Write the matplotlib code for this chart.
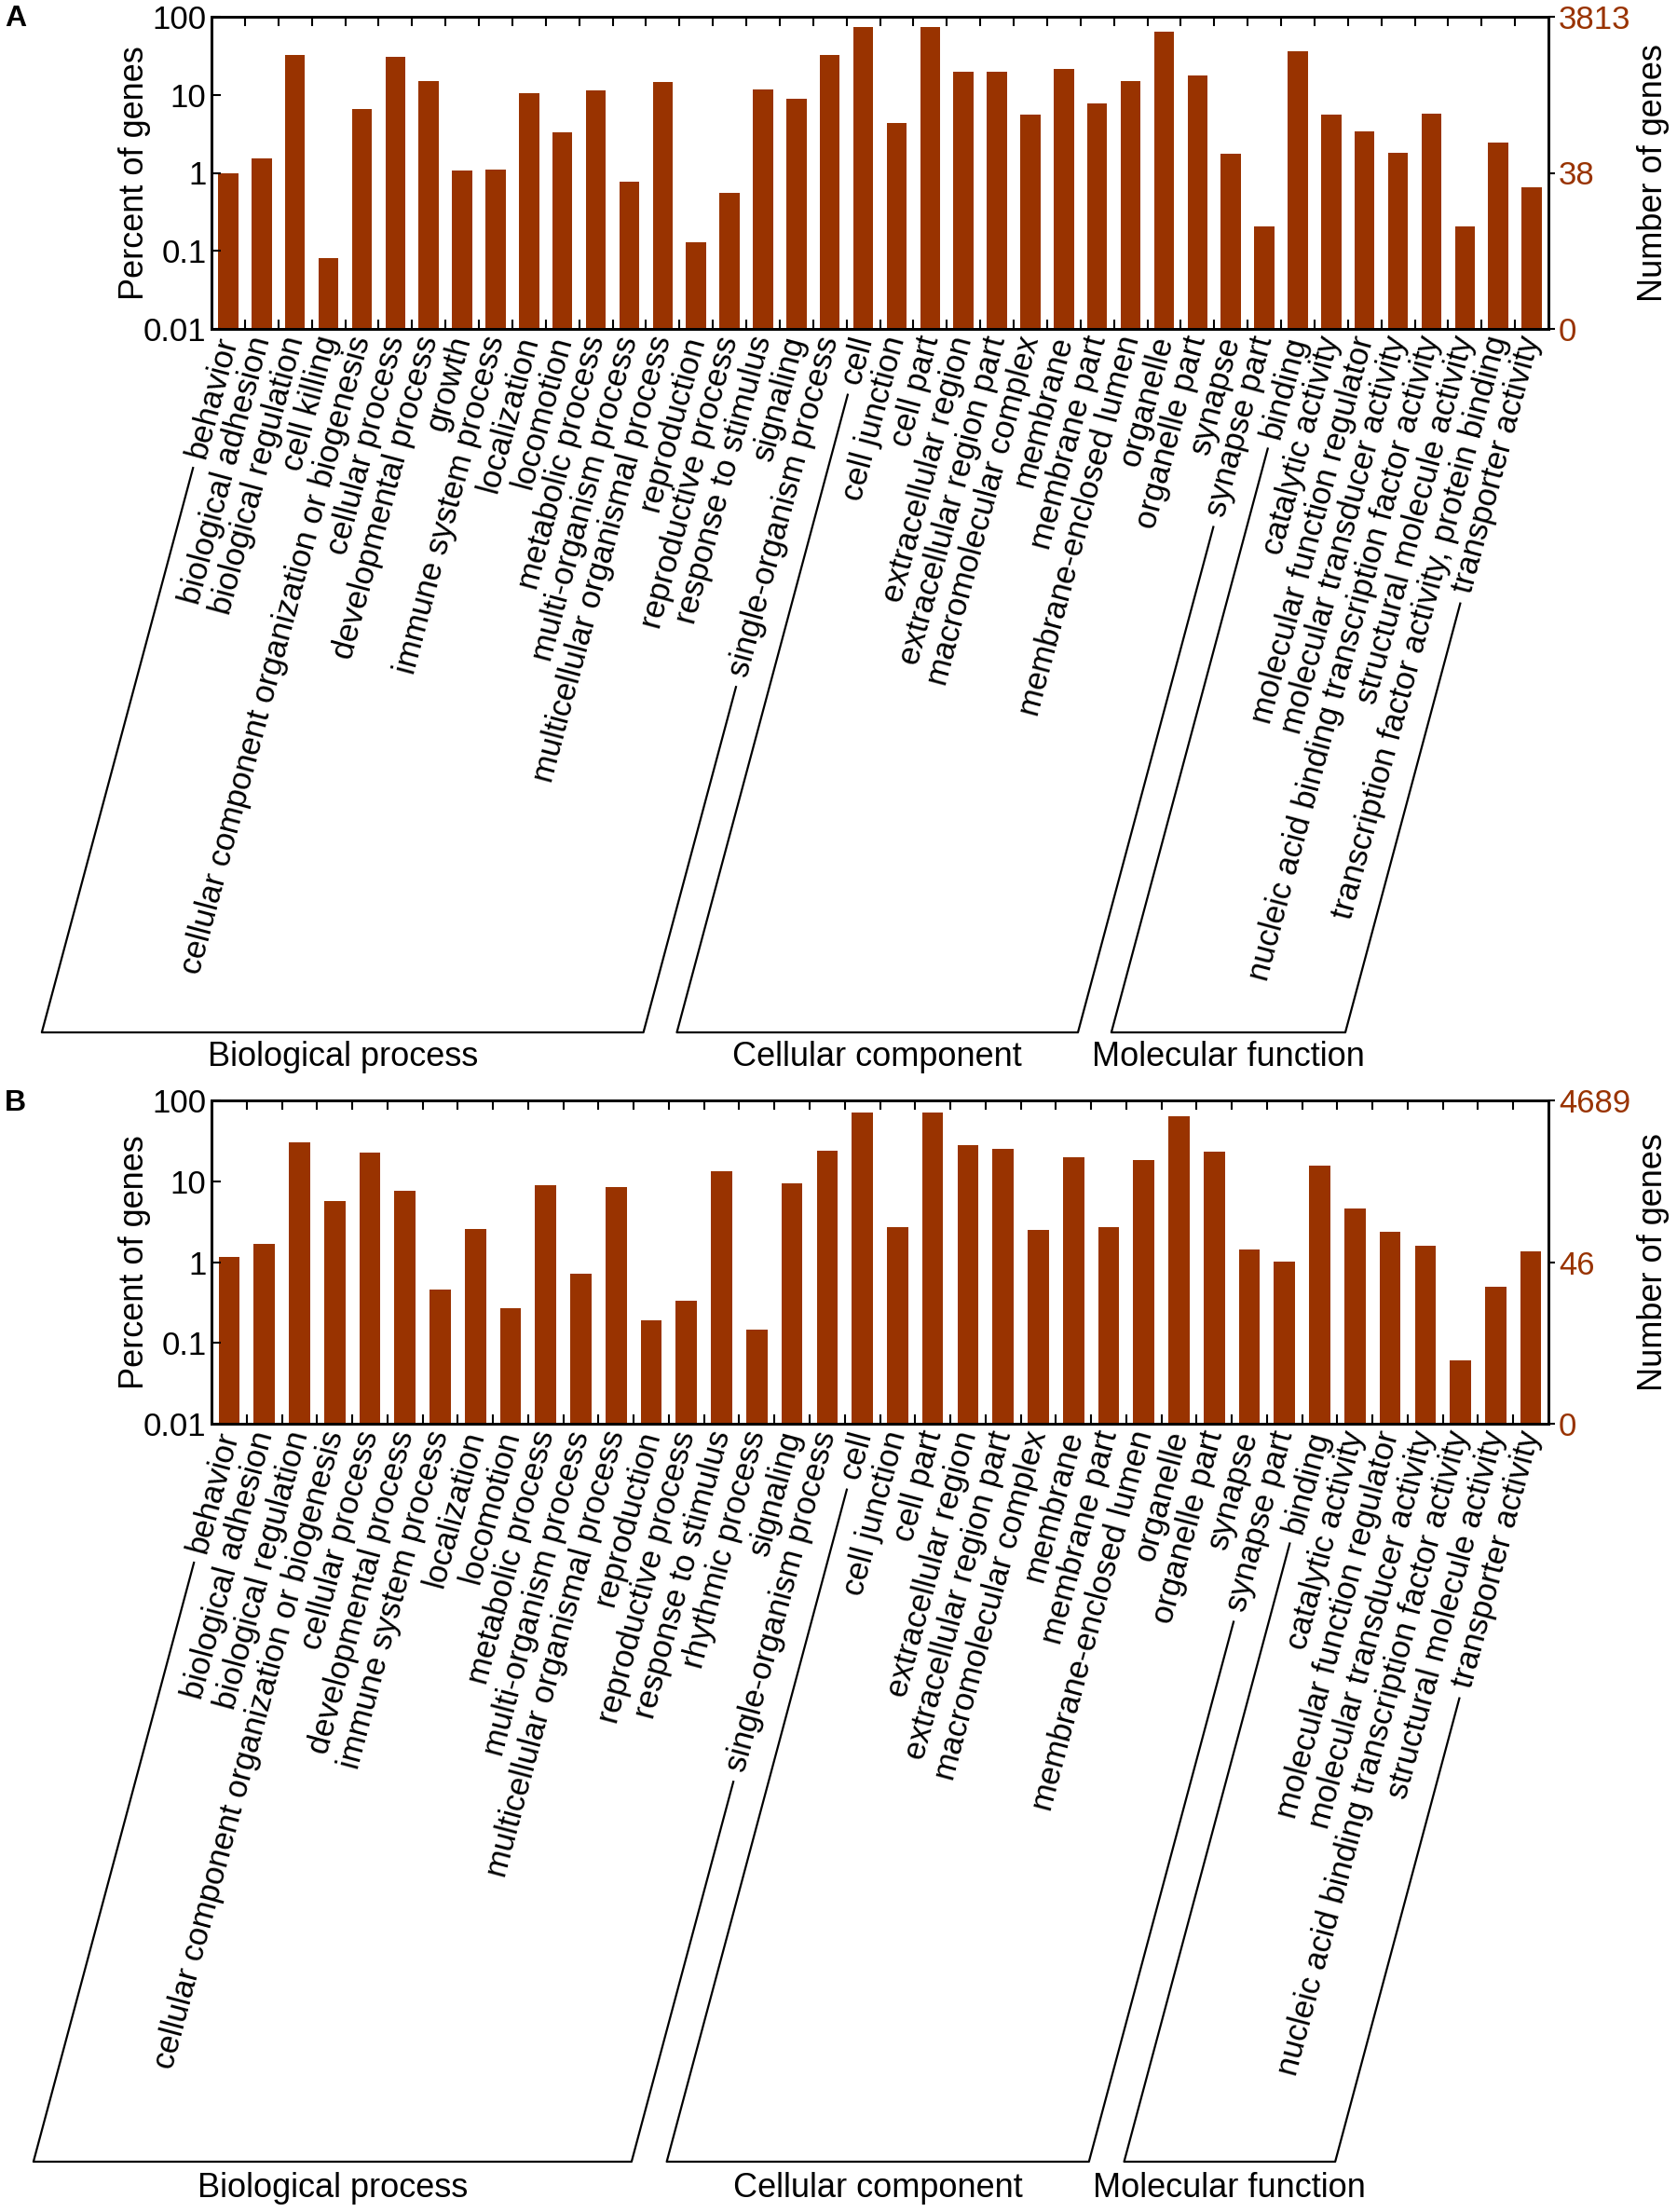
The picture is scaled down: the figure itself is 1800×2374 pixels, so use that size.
import math
import numpy as np
import matplotlib
matplotlib.use('Agg')
import matplotlib.pyplot as plt
from matplotlib.lines import Line2D
from matplotlib.ticker import NullLocator

plt.rcParams['font.family'] = ['Liberation Sans', 'DejaVu Sans']

# ---------------- data ----------------
# Panel A
bp_a_names = ["behavior", "biological adhesion", "biological regulation", "cell killing",
              "cellular component organization or biogenesis", "cellular process",
              "developmental process", "growth", "immune system process", "localization",
              "locomotion", "metabolic process", "multi-organism process",
              "multicellular organismal process", "reproduction", "reproductive process",
              "response to stimulus", "signaling", "single-organism process"]
bp_a_vals = [1.0, 1.55, 32.8, 0.08, 6.6, 30.8, 15.1, 1.08, 1.1, 10.4, 3.35, 11.3, 0.76,
             14.4, 0.13, 0.55, 11.7, 8.9, 32.8]
cc_a_names = ["cell", "cell junction", "cell part", "extracellular region",
              "extracellular region part", "macromolecular complex", "membrane",
              "membrane part", "membrane-enclosed lumen", "organelle", "organelle part",
              "synapse", "synapse part"]
cc_a_vals = [74.6, 4.4, 74.6, 19.8, 19.8, 5.5, 21.5, 7.8, 15.2, 64.4, 17.9, 1.75, 0.207]
mf_a_names = ["binding", "catalytic activity", "molecular function regulator",
              "molecular transducer activity",
              "nucleic acid binding transcription factor activity",
              "structural molecule activity",
              "transcription factor activity, protein binding", "transporter activity"]
mf_a_vals = [35.9, 5.56, 3.38, 1.8, 5.67, 0.207, 2.45, 0.656]
total_a = 3813

# Panel B
bp_b_names = ["behavior", "biological adhesion", "biological regulation",
              "cellular component organization or biogenesis", "cellular process",
              "developmental process", "immune system process", "localization",
              "locomotion", "metabolic process", "multi-organism process",
              "multicellular organismal process", "reproduction", "reproductive process",
              "response to stimulus", "rhythmic process", "signaling",
              "single-organism process"]
bp_b_vals = [1.16, 1.66, 30.0, 5.7, 22.4, 7.7, 0.46, 2.6, 0.27, 9.0, 0.71, 8.45, 0.19,
             0.33, 13.2, 0.146, 9.5, 24.0]
cc_b_names = ["cell", "cell junction", "cell part", "extracellular region",
              "extracellular region part", "macromolecular complex", "membrane",
              "membrane part", "membrane-enclosed lumen", "organelle", "organelle part",
              "synapse", "synapse part"]
cc_b_vals = [71.4, 2.7, 71.4, 28.2, 25.1, 2.47, 19.8, 2.7, 18.4, 64.2, 23.4, 1.45, 1.02]
mf_b_names = ["binding", "catalytic activity", "molecular function regulator",
              "molecular transducer activity",
              "nucleic acid binding transcription factor activity",
              "structural molecule activity", "transporter activity"]
mf_b_vals = [15.8, 4.6, 2.36, 1.58, 0.061, 0.49, 1.35]
total_b = 4689

group_titles = ["Biological process", "Cellular component", "Molecular function"]
y_ticks = [0.01, 0.1, 1, 10, 100]
y_ticklabels = ["0.01", "0.1", "1", "10", "100"]
right_ticks = [0.01, 1, 100]

# ---------------- style / layout ----------------
BAR = '#993300'
W, H = 1800, 2374
DPI = 100
ANG = math.radians(75)
FS = 26
FS_LBL = 25

fig = plt.figure(figsize=(W / DPI, H / DPI), dpi=DPI)


def px_rect(left, top, right, bottom):
    return [left / W, 1 - bottom / H, (right - left) / W, (bottom - top) / H]


def draw_panel(rect, groups, total, letter, letter_pos):
    names = [n for g in groups for n in g[0]]
    vals = [v for g in groups for v in g[1]]
    n = len(names)
    x = np.arange(1, n + 1)
    ax = fig.add_axes(rect)
    ax.bar(x, vals, width=0.6, color=BAR)
    ax.set_yscale('log')
    ax.set_ylim(0.01, 100)
    ax.set_xlim(0.5, n + 0.5)
    ax.set_yticks(y_ticks)
    ax.set_yticklabels(y_ticklabels)
    ax.yaxis.set_minor_locator(NullLocator())
    ax.set_xticks(x)
    ax.set_xticklabels(names, fontsize=FS_LBL)
    ax.set_xticks(np.arange(1.5, n), minor=True)
    ax.tick_params(axis='x', which='major', length=0, pad=6)
    ax.tick_params(axis='x', which='minor', direction='in', length=7, width=1.5,
                   top=True, bottom=True)
    ax.tick_params(axis='y', which='major', direction='in', length=7, width=1.5,
                   labelsize=25, pad=4)
    plt.setp(ax.get_xticklabels(), rotation=75, ha='right', va='center',
             rotation_mode='anchor')
    for s in ax.spines.values():
        s.set_linewidth(2)
    ax.set_ylabel('Percent of genes', fontsize=FS)
    ax.yaxis.set_label_coords(-0.045, 0.5)

    ax2 = ax.twinx()
    ax2.set_yscale('log')
    ax2.set_ylim(0.01, 100)
    ax2.set_yticks(right_ticks)
    ax2.set_yticklabels([str(int(total * v / 100)) for v in right_ticks])
    ax2.yaxis.set_minor_locator(NullLocator())
    ax2.tick_params(axis='y', which='major', direction='out', length=5, width=1.5,
                    labelsize=25, labelcolor=BAR, pad=3)
    for s in ax2.spines.values():
        s.set_linewidth(2)
    ax2.set_ylabel('Number of genes', fontsize=FS)
    ax2.yaxis.set_label_coords(1.066, 0.5)

    fig.text(letter_pos[0] / W, 1 - letter_pos[1] / H, letter, fontsize=23,
             fontweight='bold', ha='center', va='center')
    return ax, [len(g[0]) for g in groups]


panels = []
panels.append(draw_panel(px_rect(227, 18, 1662, 353),
                         [(bp_a_names, bp_a_vals), (cc_a_names, cc_a_vals),
                          (mf_a_names, mf_a_vals)],
                         total_a, 'A', (17, 20)))
panels.append(draw_panel(px_rect(227, 1181, 1662, 1528),
                         [(bp_b_names, bp_b_vals), (cc_b_names, cc_b_vals),
                          (mf_b_names, mf_b_vals)],
                         total_b, 'B', (16, 1184)))
bracket_info = [(1108, 1135), (2320, 2348)]

fig.canvas.draw()
renderer = fig.canvas.get_renderer()
tan = math.tan(ANG)
GAP = 12


def label_end(lbl):
    ax_, ay_ = lbl.get_transform().transform(lbl.get_position())
    bb = lbl.get_window_extent(renderer)
    y = bb.y0 + 4 - GAP * math.sin(ANG)
    x = ax_ - (ay_ - y) / tan
    return x, y


for (ax, sizes), (by, ty) in zip(panels, bracket_info):
    labels = ax.get_xticklabels()
    yb = H - by
    start = 0
    for gi, size in enumerate(sizes):
        first = labels[start]
        last = labels[start + size - 1]
        xl, yl = label_end(first)
        xr, yr = label_end(last)
        xlb = xl - (yl - yb) / tan
        xrb = xr - (yr - yb) / tan
        xs = [xl / W, xlb / W, xrb / W, xr / W]
        ys = [yl / H, yb / H, yb / H, yr / H]
        fig.add_artist(Line2D(xs, ys, transform=fig.transFigure, color='black',
                              linewidth=1.6))
        fig.text((xlb + xrb) / 2 / W, 1 - ty / H, group_titles[gi], fontsize=FS,
                 ha='center', va='center')
        start += size

fig.savefig('out.png', dpi=DPI)
